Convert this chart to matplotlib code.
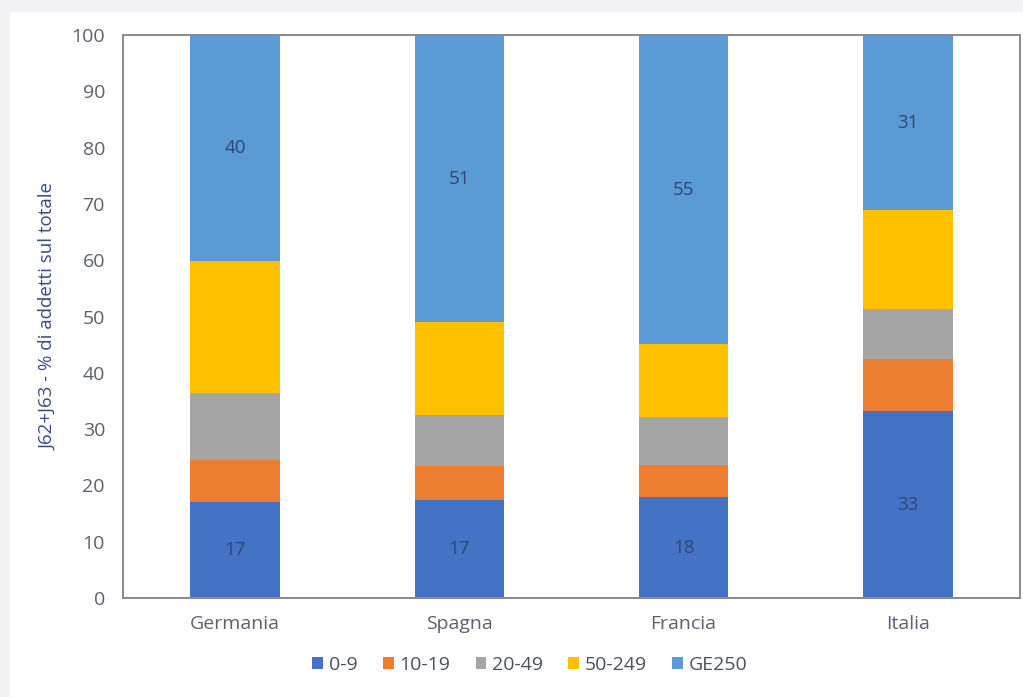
import matplotlib
matplotlib.use("Agg")
import matplotlib.pyplot as plt
import numpy as np
from matplotlib.patches import Rectangle

# data (% of employees, J62+J63)
countries = ["Germania", "Spagna", "Francia", "Italia"]
classes = ["0-9", "10-19", "20-49", "50-249", "GE250"]
v_0_9 = [17.0, 17.4, 17.9, 33.2]
v_10_19 = [7.5, 6.0, 5.7, 9.2]
v_20_49 = [11.9, 9.1, 8.5, 8.9]
v_50_249 = [23.5, 16.5, 13.0, 17.6]
v_ge250 = [40.1, 51.0, 54.9, 31.1]
shown_0_9 = ["17", "17", "18", "33"]
shown_ge250 = ["40", "51", "55", "31"]

colors = ["#4472C4", "#ED7D31", "#A5A5A5", "#FFC000", "#5B9BD5"]
tick_color = "#5c616f"
label_color = "#2f4677"

plt.rcParams["font.family"] = ["Open Sans", "DejaVu Sans"]

fig = plt.figure(figsize=(10.23, 6.97), dpi=100)
fig.patch.set_facecolor("#f2f2f4")
fig.add_artist(Rectangle((10 / 1023, 0), 1, 1 - 12 / 697, transform=fig.transFigure,
                         facecolor="white", edgecolor="none", zorder=-5))

ax = fig.add_axes([123 / 1023, 1 - 598 / 697, 897 / 1023, 563 / 697])
ax.set_zorder(2)
x = np.arange(len(countries))
series = [v_0_9, v_10_19, v_20_49, v_50_249, v_ge250]
bottom = np.zeros(len(countries))
bars = []
for name, vals, col in zip(classes, series, colors):
    b = ax.bar(x, vals, 0.4, bottom=bottom, color=col, label=name, zorder=2)
    bars.append(b)
    bottom += np.array(vals)

for rect, txt in zip(bars[0], shown_0_9):
    ax.text(rect.get_x() + rect.get_width() / 2, rect.get_y() + rect.get_height() / 2, txt,
            ha="center", va="center", fontsize=13.5, color=label_color, zorder=3)
for rect, txt in zip(bars[4], shown_ge250):
    ax.text(rect.get_x() + rect.get_width() / 2, rect.get_y() + rect.get_height() / 2, txt,
            ha="center", va="center", fontsize=13.5, color=label_color, zorder=3)

ax.set_xlim(-0.5, 3.5)
ax.set_ylim(0, 100)
ax.set_yticks(range(0, 101, 10))
ax.set_xticks(x)
ax.set_xticklabels(countries)
ax.tick_params(length=0, labelsize=14, colors=tick_color)
ax.tick_params(axis="y", pad=13)
ax.tick_params(axis="x", pad=12)
for s in ax.spines.values():
    s.set_color("#8a8a8a")
    s.set_linewidth(1.4)
ax.set_ylabel("J62+J63 - % di addetti sul totale", fontsize=13.5, color="#3d4a7e", labelpad=10)

fig.legend(loc="center", bbox_to_anchor=(530 / 1023, 1 - 665 / 697), ncol=5, frameon=False,
           fontsize=14, handlelength=0.55, handleheight=0.55, handletextpad=0.3, columnspacing=1.3,
           labelcolor="#4a5060")

fig.savefig("out.png", dpi=100, facecolor=fig.get_facecolor())
